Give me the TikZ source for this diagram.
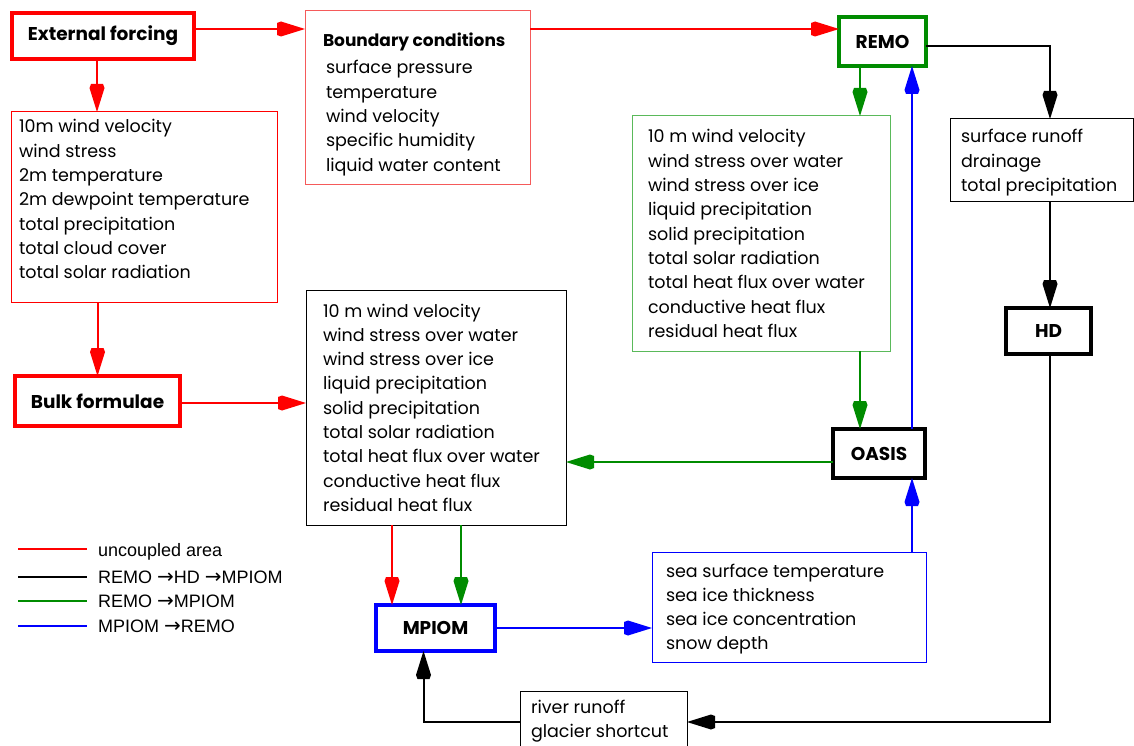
\documentclass[tikz,border=0pt]{standalone}
\usepackage{fontspec}
\setmainfont{Poppins}
\newfontfamily\legfont{Liberation Sans}
\newfontfamily\arrfont{DejaVu Sans}
\usetikzlibrary{arrows.meta,calc}
\definecolor{grn}{RGB}{0,140,0}
\definecolor{lgrn}{RGB}{90,185,90}
\definecolor{lred}{RGB}{245,90,90}
\pgfdeclarearrow{
  name = Dart,
  parameters = {},
  setup code = {
    \pgfarrowssettipend{28pt}
    \pgfarrowssetlineend{3pt}
    \pgfarrowssetvisualbackend{0pt}
    \pgfarrowssetbackend{0pt}
    \pgfarrowshullpoint{28pt}{0pt}
    \pgfarrowshullpoint{0pt}{7.5pt}
    \pgfarrowshullpoint{0pt}{-7.5pt}
  },
  drawing code = {
    \pgfpathmoveto{\pgfqpoint{28pt}{0pt}}
    \pgfpathlineto{\pgfqpoint{4pt}{7.5pt}}
    \pgfpathlineto{\pgfqpoint{0pt}{6pt}}
    \pgfpathlineto{\pgfqpoint{0pt}{-6pt}}
    \pgfpathlineto{\pgfqpoint{4pt}{-7.5pt}}
    \pgfpathclose
    \pgfusepathqfill
  }
}
\newcommand\bx[5]{\parbox[t][#1][t]{#2}{\leftskip=#3\relax\rule{0pt}{#4}\ignorespaces#5}}
\newcommand\ra{{\arrfont\fontsize{20pt}{20pt}\selectfont →}}
\tikzset{
  base/.style={inner sep=0pt, outer sep=0pt, anchor=north west},
  thinbox/.style={base, draw, line width=1pt, font=\fontsize{17.5pt}{24.3pt}\selectfont},
  thickbox/.style={base, draw, line width=4pt, font=\fontsize{18.5pt}{20pt}\selectfont\bfseries},
  arr/.style={line width=2pt, -{Dart[]}},
  legline/.style={line width=2pt},
  legtxt/.style={anchor=base west, inner sep=0pt, font=\legfont\fontsize{18pt}{20pt}\selectfont},
}
\begin{document}
\begin{tikzpicture}[x=1pt,y=-1pt]
\useasboundingbox (0,0) rectangle (1134,746);
% thick boxes
\node[thickbox, draw=red, minimum width=182pt, minimum height=46pt] (ext) at (12,13) {External forcing};
\node[thickbox, draw=red, minimum width=165pt, minimum height=50pt] (bulk) at (15,376) {Bulk formulae};
\node[thickbox, draw=grn, minimum width=87pt, minimum height=49pt] (remo) at (839,17) {REMO};
\node[thickbox, draw=black, minimum width=85pt, minimum height=46pt] (hd) at (1006,308) {HD};
\node[thickbox, draw=black, minimum width=92pt, minimum height=49pt] (oasis) at (833,429) {OASIS};
\node[thickbox, draw=blue, minimum width=119pt, minimum height=46pt] (mpiom) at (376,605) {MPIOM};
% thin boxes
\node[thinbox, draw=lred] (bc) at (305,11) {\bx{174pt}{225pt}{18pt}{36pt}{{\bfseries\fontsize{17pt}{24.3pt}\selectfont Boundary conditions}\\[2.7pt]
\hspace*{3pt}surface pressure\\ \hspace*{3pt}temperature\\ \hspace*{3pt}wind velocity\\ \hspace*{3pt}specific humidity\\ \hspace*{3pt}liquid water content}};
\node[thinbox, draw=red] (forc) at (11,112) {\bx{190pt}{266pt}{8pt}{21pt}{10m wind velocity\\ wind stress\\ 2m temperature\\ 2m dewpoint temperature\\ total precipitation\\ total cloud cover\\ total solar radiation}};
\node[thinbox, draw=lgrn] (gbox) at (632,116) {\bx{235pt}{258pt}{16pt}{27pt}{10 m wind velocity\\ wind stress over water\\ wind stress over ice\\ liquid precipitation\\ solid precipitation\\ total solar radiation\\ total heat flux over water\\ conductive heat flux\\ residual heat flux}};
\node[thinbox, draw=black] (rbox) at (950,119) {\bx{82pt}{183pt}{11pt}{24pt}{surface runoff\\ drainage\\ total precipitation}};
\node[thinbox, draw=black] (mbox) at (306,290) {\bx{235pt}{260pt}{17pt}{27pt}{10 m wind velocity\\ wind stress over water\\ wind stress over ice\\ liquid precipitation\\ solid precipitation\\ total solar radiation\\ total heat flux over water\\ conductive heat flux\\ residual heat flux}};
\node[thinbox, draw=blue] (bbox) at (652,552) {\bx{110pt}{274pt}{14pt}{25pt}{sea surface temperature\\ sea ice thickness\\ sea ice concentration\\ snow depth}};
\node[thinbox, draw=black] (river) at (520,691) {\bx{80pt}{167pt}{11pt}{22pt}{river runoff\\ glacier shortcut}};
% red connectors
\draw[arr,red] ([yshift=7pt]ext.east) -- ([yshift=7pt]ext.east -| bc.west);
\draw[arr,red] ([yshift=12.5pt]remo.west -| bc.east) -- ([yshift=12.5pt]remo.west);
\draw[arr,red] ([xshift=-6pt]ext.south) -- ([xshift=-6pt]ext.south |- forc.north);
\draw[arr,red] (bulk.north |- forc.south) -- (bulk.north);
\draw[arr,red] ([yshift=-2pt]bulk.east) -- ([yshift=-2pt]bulk.east -| mbox.west);
\draw[arr,red] ([xshift=-43.5pt]mpiom.north |- mbox.south) -- ([xshift=-43.5pt]mpiom.north);
% green connectors
\draw[arr,grn] ([xshift=25.5pt]mpiom.north |- mbox.south) -- ([xshift=25.5pt]mpiom.north);
\draw[arr,grn] ([xshift=-22.5pt]remo.south) -- ([xshift=-22.5pt]remo.south |- gbox.north);
\draw[arr,grn] ([xshift=-19pt]oasis.north |- gbox.south) -- ([xshift=-19pt]oasis.north);
\draw[arr,grn] ([yshift=-8.5pt]oasis.west) -- ([yshift=-8.5pt]oasis.west -| mbox.east);
% blue connectors
\draw[arr,blue] ([xshift=33pt]oasis.north) -- ([xshift=33pt]oasis.north |- remo.south);
\draw[arr,blue] ([xshift=33pt]oasis.south |- bbox.north) -- ([xshift=33pt]oasis.south);
\draw[arr,blue] (mpiom.east) -- (mpiom.east -| bbox.west);
% black connectors
\draw[arr,black] ([yshift=-5pt]remo.east) -| ([xshift=1.5pt]hd.north |- rbox.north);
\draw[arr,black] ([xshift=1.5pt]hd.north |- rbox.south) -- ([xshift=1.5pt]hd.north);
\draw[arr,black] ([xshift=1.5pt]hd.south) |- ([yshift=9pt]river.east);
\draw[arr,black] ([yshift=9pt]river.west) -| ([xshift=-12pt]mpiom.south);
% legend
\coordinate (l1a) at (18,549); \coordinate (l1b) at (87,549);
\coordinate (l2a) at (18,577); \coordinate (l2b) at (87,577);
\coordinate (l3a) at (18,601); \coordinate (l3b) at (87,601);
\coordinate (l4a) at (18,626); \coordinate (l4b) at (87,626);
\draw[legline,red] (l1a) -- (l1b);
\draw[legline,black] (l2a) -- (l2b);
\draw[legline,grn] (l3a) -- (l3b);
\draw[legline,blue] (l4a) -- (l4b);
\node[legtxt] (leg1) at (98,556) {uncoupled area};
\node[legtxt] (leg2) at (98,583) {REMO \ra HD \ra MPIOM};
\node[legtxt] (leg3) at (98,607) {REMO \ra MPIOM};
\node[legtxt] (leg4) at (98,632) {MPIOM \ra REMO};
\end{tikzpicture}
\end{document}
